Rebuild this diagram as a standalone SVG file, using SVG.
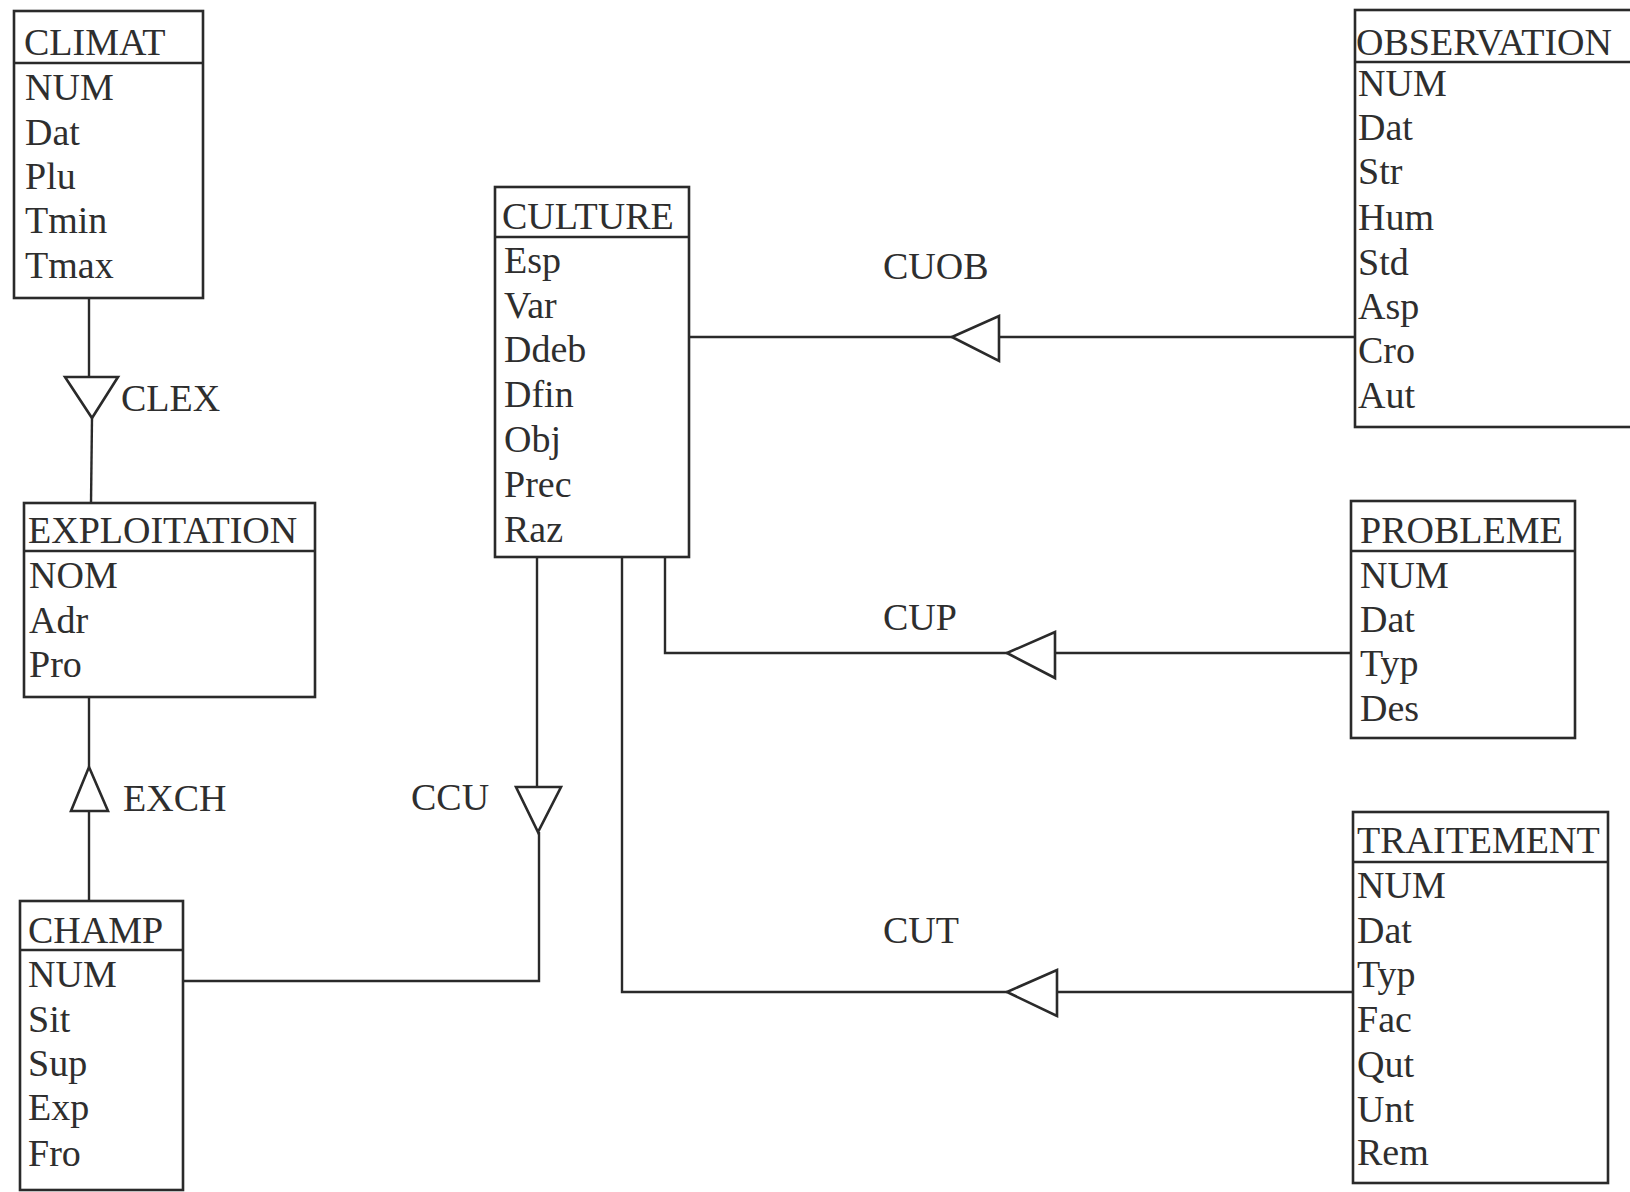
<svg xmlns="http://www.w3.org/2000/svg" width="1630" height="1192" viewBox="0 0 1630 1192">
<style>
.box{fill:none;stroke:#2a2a2a;stroke-width:2.6}
.ln{fill:none;stroke:#2a2a2a;stroke-width:2.4}
.tri{fill:#fff;stroke:#2a2a2a;stroke-width:2.6;stroke-linejoin:miter}
text{font-family:"Liberation Serif","Times New Roman",serif;font-size:38px;fill:#2e2e2e}
</style>
<rect width="1630" height="1192" fill="#fff"/>
<g id="connectors">
<polyline class="ln" points="89,298 89,377"/>
<polyline class="ln" points="92,418 91,503"/>
<polygon class="tri" points="65,377 118,377 92,418"/>
<text x="121" y="411">CLEX</text>
<polyline class="ln" points="89,697 89,767"/>
<polyline class="ln" points="89,811 89,901"/>
<polygon class="tri" points="89,767 108,811 71,811"/>
<text x="123" y="811">EXCH</text>
<polyline class="ln" points="537,557 537,787"/>
<polyline class="ln" points="183,981 539,981 539,832"/>
<polygon class="tri" points="516,787 561,787 538,832"/>
<text x="411" y="810">CCU</text>
<polyline class="ln" points="689,337 952,337"/>
<polyline class="ln" points="999,337 1355,337"/>
<polygon class="tri" points="952,337 999,316 999,361"/>
<text x="883" y="279">CUOB</text>
<polyline class="ln" points="665,557 665,653 1007,653"/>
<polyline class="ln" points="1055,653 1351,653"/>
<polygon class="tri" points="1007,653 1055,632 1055,678"/>
<text x="883" y="630">CUP</text>
<polyline class="ln" points="622,557 622,992 1007,992"/>
<polyline class="ln" points="1057,992 1353,992"/>
<polygon class="tri" points="1007,992 1057,970 1057,1016"/>
<text x="883" y="943">CUT</text>
</g>
<g id="CLIMAT">
<rect class="box" x="14" y="11" width="189" height="287"/>
<line class="box" x1="14" y1="63" x2="203" y2="63"/>
<text x="24" y="55">CLIMAT</text>
<text x="25" y="100">NUM</text>
<text x="25" y="145">Dat</text>
<text x="25" y="189">Plu</text>
<text x="25" y="233">Tmin</text>
<text x="25" y="278">Tmax</text>
</g>
<g id="EXPLOITATION">
<rect class="box" x="24" y="503" width="291" height="194"/>
<line class="box" x1="24" y1="551" x2="315" y2="551"/>
<text x="28" y="543">EXPLOITATION</text>
<text x="29" y="588">NOM</text>
<text x="29" y="633">Adr</text>
<text x="29" y="677">Pro</text>
</g>
<g id="CHAMP">
<rect class="box" x="20" y="901" width="163" height="289"/>
<line class="box" x1="20" y1="950" x2="183" y2="950"/>
<text x="28" y="943">CHAMP</text>
<text x="28" y="987">NUM</text>
<text x="28" y="1032">Sit</text>
<text x="28" y="1076">Sup</text>
<text x="28" y="1120">Exp</text>
<text x="28" y="1166">Fro</text>
</g>
<g id="CULTURE">
<rect class="box" x="495" y="187" width="194" height="370"/>
<line class="box" x1="495" y1="237" x2="689" y2="237"/>
<text x="502" y="229">CULTURE</text>
<text x="504" y="273">Esp</text>
<text x="504" y="318">Var</text>
<text x="504" y="362">Ddeb</text>
<text x="504" y="407">Dfin</text>
<text x="504" y="452">Obj</text>
<text x="504" y="497">Prec</text>
<text x="504" y="542">Raz</text>
</g>
<g id="OBSERVATION">
<rect class="box" x="1355" y="10" width="300" height="417"/>
<line class="box" x1="1355" y1="62" x2="1655" y2="62"/>
<text x="1356" y="55">OBSERVATION</text>
<text x="1358" y="96">NUM</text>
<text x="1358" y="140">Dat</text>
<text x="1358" y="184">Str</text>
<text x="1358" y="230">Hum</text>
<text x="1358" y="275">Std</text>
<text x="1358" y="319">Asp</text>
<text x="1358" y="363">Cro</text>
<text x="1358" y="408">Aut</text>
</g>
<g id="PROBLEME">
<rect class="box" x="1351" y="501" width="224" height="237"/>
<line class="box" x1="1351" y1="551" x2="1575" y2="551"/>
<text x="1360" y="543">PROBLEME</text>
<text x="1360" y="588">NUM</text>
<text x="1360" y="632">Dat</text>
<text x="1360" y="676">Typ</text>
<text x="1360" y="721">Des</text>
</g>
<g id="TRAITEMENT">
<rect class="box" x="1353" y="812" width="255" height="371"/>
<line class="box" x1="1353" y1="862" x2="1608" y2="862"/>
<text x="1357" y="853">TRAITEMENT</text>
<text x="1357" y="898">NUM</text>
<text x="1357" y="943">Dat</text>
<text x="1357" y="987">Typ</text>
<text x="1357" y="1032">Fac</text>
<text x="1357" y="1077">Qut</text>
<text x="1357" y="1122">Unt</text>
<text x="1357" y="1165">Rem</text>
</g>
</svg>
